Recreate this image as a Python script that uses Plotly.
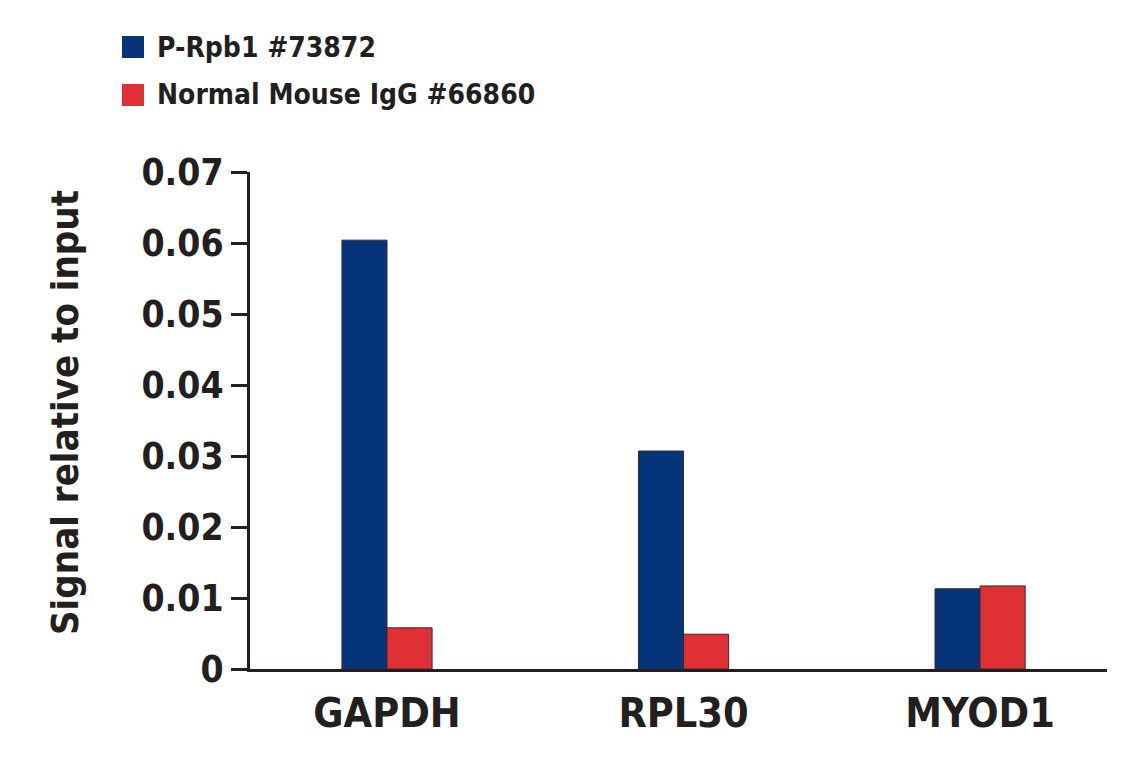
import plotly.graph_objects as go

categories = ["GAPDH", "RPL30", "MYOD1"]
series_names = ["P-Rpb1 #73872", "Normal Mouse IgG #66860"]
prpb1_values = [0.0604, 0.0307, 0.0113]
igg_values = [0.0058, 0.0049, 0.0117]
y_ticks = [0, 0.01, 0.02, 0.03, 0.04, 0.05, 0.06, 0.07]
y_tick_labels = ["0", "0.01", "0.02", "0.03", "0.04", "0.05", "0.06", "0.07"]
colors = ["#06347A", "#DE3035"]

FONT = "DejaVu Sans Condensed, Liberation Sans Narrow, sans-serif"
DARK = "#231F20"

fig = go.Figure()
for name, vals, col in zip(series_names, [prpb1_values, igg_values], colors):
    fig.add_trace(go.Bar(
        x=categories, y=vals, name=name,
        marker=dict(color=col, line=dict(color="#3a2a2a", width=1)),
        showlegend=False,
    ))

# legend drawn as shapes + text (paper y = (669 - pixel_y) / 497)
legend_rows = [(47, series_names[0], colors[0]), (95, series_names[1], colors[1])]
for yc, name, col in legend_rows:
    fig.add_shape(type="rect", xref="paper", yref="paper",
                  x0=(122 - 250) / 857, x1=(144 - 250) / 857,
                  y0=(669 - (yc + 11)) / 497, y1=(669 - (yc - 11)) / 497,
                  fillcolor=col, line=dict(width=0))
    fig.add_annotation(text="<b>" + name + "</b>", xref="paper", yref="paper",
                       x=(155 - 250) / 857, y=(669 - yc) / 497,
                       xanchor="left", yanchor="middle", showarrow=False,
                       font=dict(family=FONT, size=28, color=DARK))

fig.add_annotation(text="<b>Signal relative to input</b>", xref="paper", yref="paper",
                   x=(65 - 250) / 857, y=(669 - 413) / 497, textangle=-90,
                   xanchor="center", yanchor="middle", showarrow=False,
                   font=dict(family=FONT, size=38, color=DARK))

fig.update_layout(
    width=1141, height=768,
    margin=dict(l=250, r=34, t=172, b=99),
    plot_bgcolor="white", paper_bgcolor="white",
    barmode="group", bargap=0.696, bargroupgap=0,
    xaxis=dict(range=[-0.462, 2.428], showline=True, linecolor=DARK, linewidth=3,
               ticks="", showgrid=False, zeroline=False, ticklabelstandoff=6,
               tickfont=dict(family=FONT, size=41, color=DARK),
               tickprefix="<b>", ticksuffix="</b>"),
    yaxis=dict(range=[0, 0.07], showline=True, linecolor=DARK, linewidth=3,
               ticks="outside", ticklen=16, tickwidth=3, tickcolor=DARK,
               tickvals=y_ticks, ticktext=["<b>" + t + "</b>" for t in y_tick_labels],
               showgrid=False, zeroline=False,
               tickfont=dict(family=FONT, size=37, color=DARK)),
)

fig.write_html("out.html")
